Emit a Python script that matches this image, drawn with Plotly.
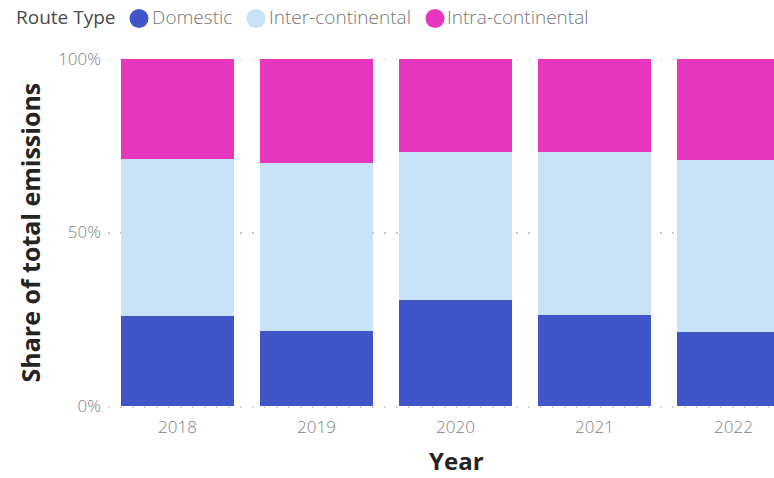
import plotly.graph_objects as go

years = ["2018", "2019", "2020", "2021", "2022"]
domestic = [26.0, 21.6, 30.6, 26.2, 21.3]
inter_continental = [45.2, 48.5, 42.7, 47.1, 49.7]
intra_continental = [28.8, 29.9, 26.7, 26.7, 29.0]

series_names = ["Domestic", "Inter-continental", "Intra-continental"]
series_values = [domestic, inter_continental, intra_continental]
colors = ["#4055C8", "#C8E2F8", "#E636BE"]
y_tickvals = [0, 50, 100]
y_ticktext = ["0%", "50%", "100%"]

W, H = 774, 478
ML, MR, MT, MB = 108, 0, 59, 72
PW, PH = W - ML - MR, H - MT - MB


def px(x):
    return (x - ML) / PW


def py(y):
    return (H - MB - y) / PH


fig = go.Figure()
for name, vals, col in zip(series_names, series_values, colors):
    fig.add_trace(go.Bar(x=years, y=vals, name=name, marker_color=col,
                         marker_line_width=0, showlegend=False))

font_fam = "Open Sans, Noto Sans, sans-serif"
grid_col = "#c4c4c4"

# Manual legend
annotations = [
    dict(text="Route Type", x=px(14), y=py(17), xref="paper", yref="paper",
         xanchor="left", yanchor="middle", showarrow=False,
         font=dict(family=font_fam, size=19, color="#4a4a4a")),
]
shapes = []
leg_circle_x = [139, 256, 435]
leg_text_x = [150, 267, 445]
for name, col, cx, tx in zip(series_names, colors, leg_circle_x, leg_text_x):
    shapes.append(dict(type="circle", xref="paper", yref="paper",
                       xsizemode="pixel", ysizemode="pixel",
                       xanchor=px(cx), yanchor=py(18.5),
                       x0=-9.5, x1=9.5, y0=-9.5, y1=9.5,
                       fillcolor=col, line_width=0))
    annotations.append(dict(text=name, x=px(tx), y=py(17), xref="paper", yref="paper",
                            xanchor="left", yanchor="middle", showarrow=False,
                            font=dict(family=font_fam, size=19, color="#767676",
                                      weight=300)))

annotations.append(dict(text="<b>Year</b>", x=px(456), y=py(461), xref="paper", yref="paper",
                        xanchor="center", yanchor="middle", showarrow=False,
                        font=dict(family=font_fam, size=24, color="#252423")))
annotations.append(dict(text="<b>Share of total emissions</b>", x=px(29), y=0.5,
                        xref="paper", yref="paper", textangle=-90,
                        xanchor="center", yanchor="middle", showarrow=False,
                        font=dict(family=font_fam, size=25, color="#252423")))

# dotted reference lines at 100% and just under the 0% baseline
shapes.append(dict(type="line", xref="paper", yref="y", x0=0, x1=1, y0=100, y1=100,
                   layer="below", line=dict(color=grid_col, width=1.5,
                                            dash="1.5px,10.5px")))
shapes.append(dict(type="line", xref="paper", yref="paper", x0=0, x1=1,
                   y0=-1.2 / PH, y1=-1.2 / PH,
                   layer="below", line=dict(color=grid_col, width=1.5,
                                            dash="1.5px,10.5px")))

fig.update_layout(
    width=W, height=H,
    margin=dict(l=ML, r=MR, t=MT, b=MB, autoexpand=False),
    barmode="stack", barnorm="percent", bargap=0.194,
    plot_bgcolor="white", paper_bgcolor="white",
    annotations=annotations, shapes=shapes,
    font=dict(family=font_fam),
)
fig.update_xaxes(type="category", range=[-0.5, -0.5 + PW / 139.0],
                 showgrid=False, zeroline=False, showline=False, ticks="",
                 tickfont=dict(size=17, color="#808080", weight=300),
                 ticklabelstandoff=9)
fig.update_yaxes(range=[0, 100], tickvals=y_tickvals, ticktext=y_ticktext,
                 showgrid=True, gridcolor=grid_col, gridwidth=1.5,
                 griddash="1.5px,10.5px", zeroline=False, showline=False,
                 ticks="", tickfont=dict(size=17, color="#808080", weight=300),
                 ticklabelstandoff=6)

fig.write_html("out.html", config={"displayModeBar": False},
               post_script="document.body.style.margin='0';document.body.style.overflow='hidden';")
